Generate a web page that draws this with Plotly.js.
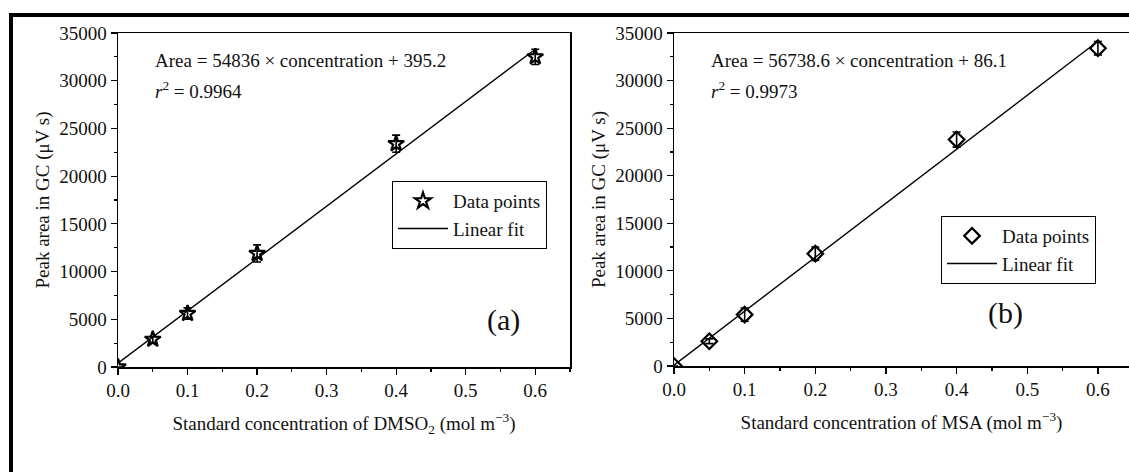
<!DOCTYPE html>
<html>
<head>
<meta charset="utf-8">
<script src="https://cdn.plot.ly/plotly-3.0.1.min.js"></script>
<style>html,body{margin:0;padding:0;background:#fff;}#chart{width:1129px;height:472px;}</style>
</head>
<body>
<div id="chart"></div>
<script>
// Panel (a): DMSO2
const concA = [0, 0.05, 0.1, 0.2, 0.4, 0.6];
const areaA = [0, 2900, 5600, 11900, 23400, 32500];
const errA = [0, 300, 600, 900, 900, 800];
const fitXA = [0, 0.6];
const fitYA = [395, 33297];
// Panel (b): MSA
const concB = [0, 0.05, 0.1, 0.2, 0.4, 0.6];
const areaB = [0, 2600, 5400, 11800, 23800, 33400];
const errB = [0, 250, 700, 700, 800, 700];
const fitXB = [0, 0.6];
const fitYB = [86, 34129];

const xTicks = [0, 0.1, 0.2, 0.3, 0.4, 0.5, 0.6];
const xTickText = ['0.0', '0.1', '0.2', '0.3', '0.4', '0.5', '0.6'];
const yTicks = [0, 5000, 10000, 15000, 20000, 25000, 30000, 35000];
const yTickText = ['0', '5000', '10000', '15000', '20000', '25000', '30000', '35000'];

const font = '"Liberation Serif", "Times New Roman", Times, serif';
const FS = 19;
const W = 1129, H = 472;
const px = v => v / W, py = v => 1 - v / H;

function xax(dom, xmax, title, anchor) {
  return {
    domain: dom, anchor: anchor, range: [0, xmax], tickvals: xTicks, ticktext: xTickText,
    ticks: 'outside', ticklen: 6, tickwidth: 1.2, tickcolor: '#000',
    minor: {dtick: 0.05, tick0: 0, ticks: 'outside', ticklen: 3, tickwidth: 1.2, tickcolor: '#000'},
    showline: true, linecolor: '#000', linewidth: 1.5, mirror: true, showgrid: false, zeroline: false,
    tickfont: {family: font, size: FS, color: '#111'},
    title: {text: title, font: {family: font, size: FS, color: '#111'}, standoff: 16}
  };
}
function yax(dom, anchor) {
  return {
    domain: dom, anchor: anchor, range: [0, 35000], tickvals: yTicks, ticktext: yTickText,
    ticks: 'outside', ticklen: 6, tickwidth: 1.2, tickcolor: '#000',
    minor: {dtick: 2500, tick0: 0, ticks: 'outside', ticklen: 3, tickwidth: 1.2, tickcolor: '#000'},
    showline: true, linecolor: '#000', linewidth: 1.5, mirror: true, showgrid: false, zeroline: false,
    tickfont: {family: font, size: FS, color: '#111'},
    title: {text: 'Peak area in GC (μV s)', font: {family: font, size: FS, color: '#111'}, standoff: 4}
  };
}

const traces = [
  {x: concA, y: areaA, xaxis: 'x', yaxis: 'y', mode: 'markers', name: 'Data points', legend: 'legend',
   marker: {symbol: 'star-open', size: 12, color: '#000', line: {width: 2.2, color: '#000'}},
   error_y: {type: 'data', array: errA, visible: true, color: '#000', thickness: 1.6, width: 4}},
  {x: fitXA, y: fitYA, xaxis: 'x', yaxis: 'y', mode: 'lines', name: 'Linear fit', legend: 'legend',
   line: {color: '#000', width: 1.4}},
  {x: concB, y: areaB, xaxis: 'x2', yaxis: 'y2', mode: 'markers', name: 'Data points', legend: 'legend2',
   marker: {symbol: 'diamond-open', size: 12, color: '#000', line: {width: 2.2, color: '#000'}},
   error_y: {type: 'data', array: errB, visible: true, color: '#000', thickness: 1.6, width: 4}},
  {x: fitXB, y: fitYB, xaxis: 'x2', yaxis: 'y2', mode: 'lines', name: 'Linear fit', legend: 'legend2',
   line: {color: '#000', width: 1.4}}
];

const legendStyle = {bgcolor: '#fff', bordercolor: '#000', borderwidth: 1, itemwidth: 50,
  font: {family: font, size: FS, color: '#111'}, xanchor: 'left', yanchor: 'top', tracegroupgap: 0};

const annFont = {family: font, size: FS, color: '#111'};
const layout = {
  width: W, height: H, margin: {l: 0, r: 0, t: 0, b: 0},
  font: {family: font, size: FS, color: '#111'},
  paper_bgcolor: '#fff', plot_bgcolor: '#fff',
  xaxis: xax([px(118), px(570)], 0.65, 'Standard concentration of DMSO<sub>2</sub> (mol m<sup>−3</sup>)', 'y'),
  yaxis: yax([py(367), py(33)], 'x'),
  xaxis2: xax([px(674), 1.0], 0.644, 'Standard concentration of MSA (mol m<sup>−3</sup>)', 'y2'),
  yaxis2: yax([py(366), py(33)], 'x2'),
  legend: Object.assign({x: px(392), y: py(181)}, legendStyle),
  legend2: Object.assign({x: px(941), y: py(216)}, legendStyle),
  showlegend: true,
  annotations: [
    {xref: 'paper', yref: 'paper', x: px(153), y: py(61), xanchor: 'left', yanchor: 'middle', showarrow: false,
     text: 'Area = 54836 × concentration + 395.2', font: annFont},
    {xref: 'paper', yref: 'paper', x: px(153), y: py(90), xanchor: 'left', yanchor: 'middle', showarrow: false,
     text: '<i>r</i><sup>2</sup> = 0.9964', font: annFont},
    {xref: 'paper', yref: 'paper', x: px(709), y: py(61), xanchor: 'left', yanchor: 'middle', showarrow: false,
     text: 'Area = 56738.6 × concentration + 86.1', font: annFont},
    {xref: 'paper', yref: 'paper', x: px(709), y: py(90), xanchor: 'left', yanchor: 'middle', showarrow: false,
     text: '<i>r</i><sup>2</sup> = 0.9973', font: annFont},
    {xref: 'paper', yref: 'paper', x: px(503), y: py(320), xanchor: 'center', yanchor: 'middle', showarrow: false,
     text: '(a)', font: {family: font, size: 30, color: '#111'}},
    {xref: 'paper', yref: 'paper', x: px(1005), y: py(313), xanchor: 'center', yanchor: 'middle', showarrow: false,
     text: '(b)', font: {family: font, size: 30, color: '#111'}}
  ],
  shapes: [
    {type: 'line', xref: 'paper', yref: 'paper', x0: px(11), x1: px(11), y0: py(13), y1: 0, line: {color: '#000', width: 4}},
    {type: 'line', xref: 'paper', yref: 'paper', x0: px(9), x1: 1, y0: py(15), y1: py(15), line: {color: '#000', width: 4}}
  ]
};

Plotly.newPlot('chart', traces, layout, {displayModeBar: false, staticPlot: true});
</script>
</body>
</html>
